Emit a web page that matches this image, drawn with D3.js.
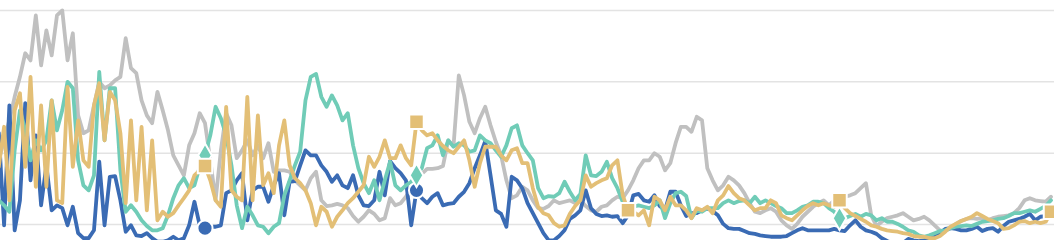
<!DOCTYPE html>
<html><head><meta charset="utf-8">
<script src="https://cdn.jsdelivr.net/npm/d3@7"></script>
<style>html,body{margin:0;padding:0;background:#fff;overflow:hidden}svg{display:block}</style>
</head><body><svg id="c" width="1054" height="240"></svg>
<script>
const gridValues = [100, 200, 300, 400];
const markerIndex = [39, 79, 119, 159, 199];

const gray = [190,218,246,279,307,340,330,393,323,372,337,393,400,330,368,253,228,232,267,300,291,295,302,307,361,319,312,274,253,242,286,260,232,197,183,169,211,228,256,242,190,134,204,256,239,193,204,218,197,211,193,214,174,176,176,174,162,155,148,165,174,134,126,127,129,127,123,112,104,111,120,115,106,109,137,127,130,139,151,162,171,178,178,179,182,218,210,309,281,244,228,249,265,239,216,197,162,137,141,153,148,134,123,122,126,134,130,132,134,130,134,126,120,118,125,127,134,139,137,148,162,179,190,190,200,195,176,186,214,237,237,230,251,246,179,162,148,155,167,162,155,144,130,118,116,120,123,118,106,99,94,101,111,118,125,130,134,127,134,137,139,141,144,151,158,113,98,104,109,111,113,116,111,106,108,111,106,99,92,91,95,101,105,108,109,108,109,106,109,111,112,113,116,123,134,137,134,133,132,139];

const teal = [134,127,118,204,260,232,190,218,204,218,274,232,260,300,291,190,155,148,169,314,218,291,291,176,118,127,118,106,98,92,92,95,113,137,155,165,151,155,181,197,225,265,249,225,183,127,95,125,113,99,97,88,97,102,141,162,183,202,274,307,311,279,265,281,267,246,256,211,179,158,144,162,134,162,188,155,148,155,160,169,179,207,211,225,197,218,209,214,211,202,204,225,218,214,204,195,211,235,239,211,200,190,151,137,140,139,144,160,146,134,143,197,169,168,174,188,165,151,132,125,125,127,125,123,127,134,109,130,144,146,140,109,120,118,123,123,123,130,134,130,133,134,130,139,130,134,130,126,123,116,116,120,125,127,132,132,130,123,118,109,109,112,115,111,115,113,106,109,104,104,101,97,92,90,85,83,85,88,91,92,95,97,98,99,98,101,104,105,106,108,109,112,116,116,118,120,118,122,126,134];

const gold = [181,237,134,260,284,181,307,153,267,153,274,134,130,293,181,246,190,181,267,298,218,286,274,228,130,246,134,237,120,218,106,118,111,116,127,137,148,169,176,182,162,134,125,265,148,139,134,279,134,253,155,172,144,211,246,183,165,158,148,130,99,125,118,97,111,120,130,137,146,155,195,181,195,218,193,193,211,193,183,244,232,225,228,218,210,204,200,209,218,190,153,186,209,209,209,197,190,204,207,186,186,151,125,116,113,102,97,99,115,126,134,169,153,158,162,165,183,190,141,120,118,113,120,99,139,134,120,139,127,127,120,109,123,120,125,116,134,141,154,144,137,134,127,120,123,123,134,130,113,109,106,113,120,126,130,127,130,127,125,134,123,116,112,108,104,99,97,94,92,91,90,88,87,84,83,83,81,81,84,90,97,101,105,108,111,116,112,108,105,102,94,95,99,104,105,102,104,102,104,118];

const blue = [228,99,267,92,134,270,162,225,127,183,120,127,123,99,125,88,81,81,92,188,99,167,168,134,90,99,85,84,88,81,76,76,78,83,78,81,99,132,99,95,97,97,99,144,148,162,172,106,148,153,153,132,155,172,113,160,161,183,204,197,197,183,174,160,169,155,151,169,141,127,126,134,174,141,189,179,172,162,99,148,137,130,139,144,127,129,130,139,146,158,179,197,217,169,120,115,97,167,162,151,130,116,102,88,78,78,84,92,108,113,120,148,123,115,112,113,111,112,102,113,141,143,134,132,141,126,120,146,146,127,112,116,116,120,123,119,113,101,95,94,94,91,88,87,85,84,83,83,83,84,88,92,95,92,92,92,92,92,94,92,91,99,106,97,92,90,87,81,77,74,73,74,80,78,77,78,80,83,88,94,95,94,92,92,94,97,91,94,95,90,98,104,106,108,111,115,106,111,112,115];

const series = [
  {name: "gray", values: gray, color: "#c0c0c0", markers: [], shape: null},
  {name: "blue", values: blue, color: "#3a6bb4", markers: [39, 79], shape: d3.symbolCircle},
  {name: "teal", values: teal, color: "#70ccb7", markers: [39, 79, 159], shape: d3.symbolDiamond},
  {name: "gold", values: gold, color: "#e3bf76", markers: markerIndex, shape: d3.symbolSquare}
];

const W = 1054, H = 240;
const svg = d3.select("#c");
const x = d3.scaleLinear().domain([0, 199]).range([-1.2, 1051]);
const y = d3.scaleLinear().domain([0, 400]).range([296, 10.4]);

svg.append("g").selectAll("line").data(gridValues).join("line")
  .attr("x1", 0).attr("x2", W)
  .attr("y1", d => y(d)).attr("y2", d => y(d))
  .attr("stroke", "#e3e3e3").attr("stroke-width", 1.5);

const line = d3.line().x((d, i) => x(i)).y(d => y(d));

svg.append("g").selectAll("path").data(series).join("path")
  .attr("d", s => line(s.values))
  .attr("fill", "none")
  .attr("stroke", s => s.color)
  .attr("stroke-width", 3.8)
  .attr("stroke-linejoin", "round")
  .attr("stroke-linecap", "round");

const mg = svg.append("g");
series.forEach(s => {
  if (!s.shape) return;
  const size = s.shape === d3.symbolSquare ? 210 : (s.shape === d3.symbolCircle ? 180 : 160);
  mg.selectAll(null).data(s.markers).join("path")
    .attr("transform", i => `translate(${x(i)},${y(s.values[i])})`)
    .attr("d", d3.symbol().type(s.shape).size(size))
    .attr("fill", s.color)
    .attr("stroke", "#fff")
    .attr("stroke-width", 2);
});
</script></body></html>
